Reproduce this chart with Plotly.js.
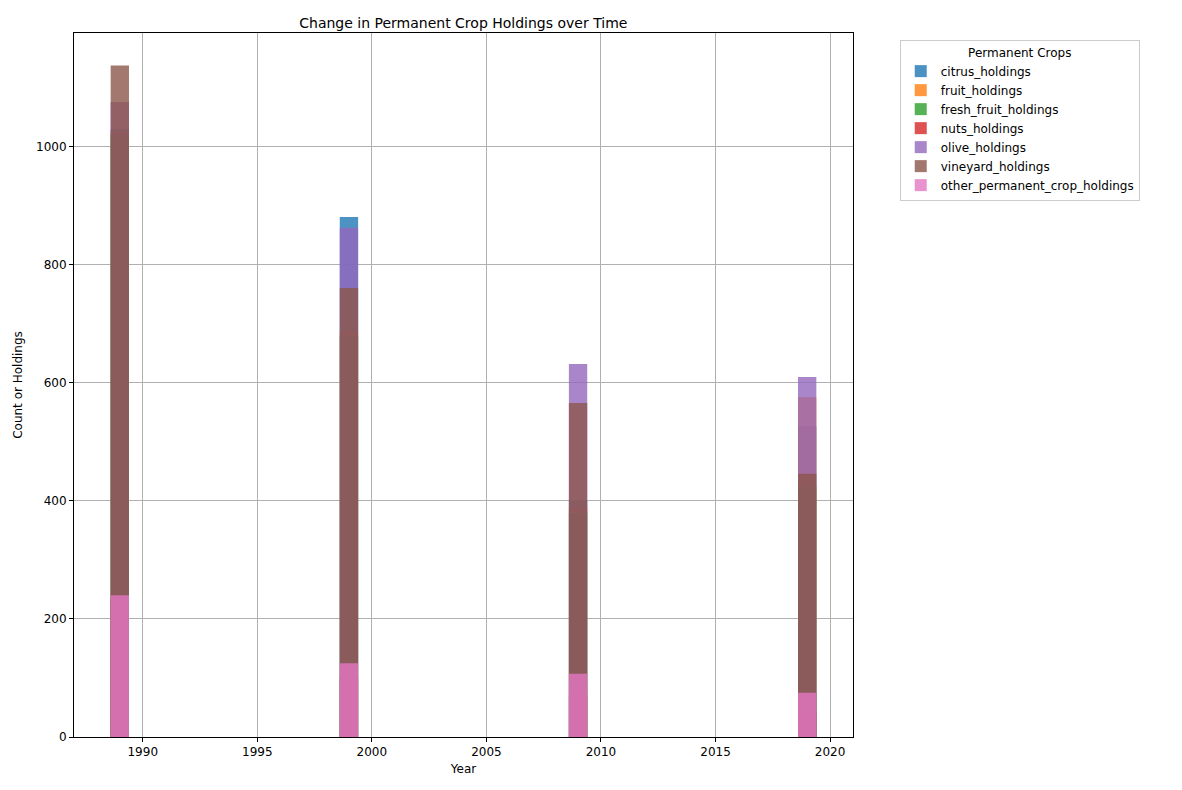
<!DOCTYPE html>
<html><head><meta charset="utf-8">
<script src="https://cdn.plot.ly/plotly-3.0.1.min.js"></script>
<style>body{margin:0;background:#fff}</style></head>
<body><div id="c" style="width:1182px;height:790px"></div>
<script>
const years = [1989, 1999, 2009, 2019];
const citrus_holdings = [1030, 881, 400, 527];
const fruit_holdings = [1025, 688, 390, 576];
const fresh_fruit_holdings = [1020, 680, 380, 424];
const nuts_holdings = [233, 101, 71, 41];
const olive_holdings = [1076, 863, 632, 610];
const vineyard_holdings = [1138, 761, 566, 446];
const other_permanent_crop_holdings = [240, 125, 107, 75];
const names = ["citrus_holdings","fruit_holdings","fresh_fruit_holdings","nuts_holdings","olive_holdings","vineyard_holdings","other_permanent_crop_holdings"];
const series = [citrus_holdings,fruit_holdings,fresh_fruit_holdings,nuts_holdings,olive_holdings,vineyard_holdings,other_permanent_crop_holdings];
const colors = ["#1f77b4","#ff7f0e","#2ca02c","#d62728","#9467bd","#8c564b","#e377c2"];
const traces = series.map((s,i)=>({type:'bar',x:years,y:s,name:names[i],width:0.8,opacity:0.8,marker:{color:colors[i],line:{width:0}}}));
const ax = {showgrid:true,gridcolor:'#b0b0b0',gridwidth:1,showline:true,linecolor:'#000',mirror:true,ticks:'outside',ticklen:4,tickcolor:'#000',zeroline:false,tickfont:{size:12,color:'#000'}};
Plotly.newPlot('c',traces,{
  width:1182,height:790,barmode:'overlay',
  font:{family:'DejaVu Sans',color:'#000'},
  paper_bgcolor:'#fff',plot_bgcolor:'#fff',
  margin:{l:74,r:329,t:33,b:53},
  title:{text:'Change in Permanent Crop Holdings over Time',font:{size:14},x:0.392,xanchor:'center',y:0.977},
  xaxis:Object.assign({},ax,{range:[1987.0,2021.0],tickvals:[1990,1995,2000,2005,2010,2015,2020],title:{text:'Year',font:{size:12},standoff:6}}),
  yaxis:Object.assign({},ax,{range:[0,1193],tickvals:[0,200,400,600,800,1000],title:{text:'Count or Holdings',font:{size:12},standoff:10}}),
  legend:{x:1.06,y:0.99,xanchor:'left',yanchor:'top',bordercolor:'#ccc',borderwidth:1,font:{size:12},title:{text:'Permanent Crops',side:'top center',font:{size:12}},tracegroupgap:0},
  showlegend:true
},{displayModeBar:false});
</script></body></html>
